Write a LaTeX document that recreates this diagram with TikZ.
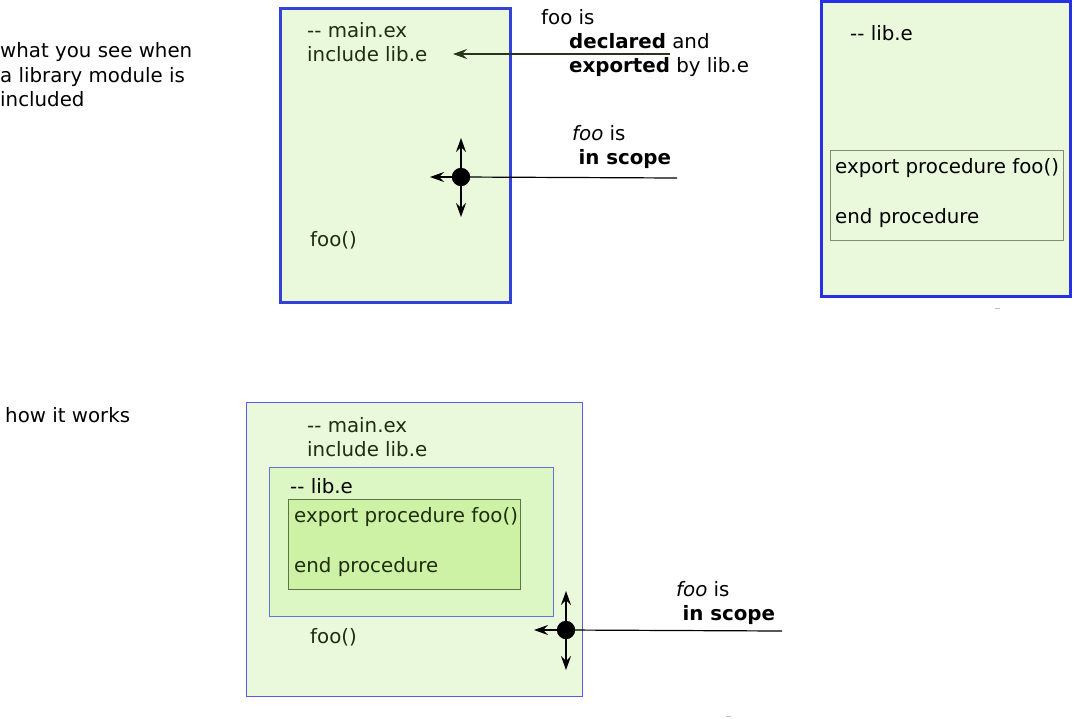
\documentclass[tikz,border=0pt]{standalone}
\usepackage{fontspec}
\setmainfont{DejaVu Sans}
\usetikzlibrary{arrows.meta}
\definecolor{boxfill}{RGB}{234,248,220}
\definecolor{midfill}{RGB}{220,246,196}
\definecolor{innerfill}{RGB}{205,242,166}
\definecolor{thickblue}{RGB}{51,64,218}
\definecolor{brightblue}{RGB}{38,48,228}
\definecolor{thinblue}{RGB}{90,90,235}
\definecolor{midblue}{RGB}{100,115,220}
\definecolor{codegreen}{RGB}{30,46,14}
\definecolor{olive}{RGB}{95,115,70}
\definecolor{greyframe}{RGB}{130,140,115}
\definecolor{arrowline}{RGB}{40,52,30}
\newcommand{\dd}{-\kern0pt-}
\tikzset{
  txt/.style={anchor=base west, inner sep=0pt, font=\fontsize{19.8}{24}\selectfont},
  code/.style={txt, text=codegreen},
  conn/.style={draw=arrowline, line width=1.2pt, -{Stealth[length=14pt,width=10pt,inset=5pt]}},
  dot/.style={circle, fill=black, minimum size=18pt, inner sep=0pt},
  bigbox/.style={draw=thickblue, line width=3pt, fill=boxfill},
}
\begin{document}
\begin{tikzpicture}[x=1pt,y=-1pt]
\useasboundingbox (0,0) rectangle (1075,718);

% ---------- top: what you see ----------
\node[txt] (see1) at (0,57) {what you see when};
\node[txt] (see2) at (0,82) {a library module is};
\node[txt] (see3) at (0,106) {included};

\draw[bigbox] (280,8) rectangle (510,302);
\node[code] (mainA) at (307,37) {\dd{} main.ex};
\node[code] (inclA) at (307,61) {include lib.e};
\node[code] (fooA) at (310,246) {foo()};

\node[txt] (fooisA) at (541,24) {foo is};
\node[txt] (declA) at (569,48) {\textbf{declared} and};
\node[txt] (exptA) at (569,72) {\textbf{exported} by lib.e};
\coordinate (declStart) at (670,54);
\coordinate (declEnd) at (453,54);
\draw[conn] (declStart) -- (declEnd);

\node[txt] (scopeA1) at (572,140) {\textit{foo} is};
\node[txt] (scopeA2) at (572,164) {\ \textbf{in scope}};
\node[dot] (dotA) at (461,177) {};
\coordinate (lineA) at (677,178);
\coordinate (upA) at (461,138);
\coordinate (downA) at (461,217);
\coordinate (leftA) at (430,177);
\draw[black, line width=1.2pt] (dotA.center) -- (lineA);
\draw[conn, draw=black] (dotA.center) -- (upA);
\draw[conn, draw=black] (dotA.center) -- (downA);
\draw[conn, draw=black] (dotA.center) -- (leftA);

\draw[bigbox, draw=brightblue] (821,1.5) rectangle (1070,296);
\node[txt] (libB) at (850,40) {\dd{} lib.e};
\draw[draw=greyframe, line width=1pt, fill=boxfill] (830.5,150.5) rectangle (1063.5,240);
\node[txt] (expB) at (835,173) {export procedure foo()};
\node[txt] (endB) at (835,223) {end procedure};
\draw[gray!50, line width=1pt] (995,308.5) -- (1000,308.5);

% ---------- bottom: how it works ----------
\node[txt] (how) at (5,422) {how it works};

\draw[draw=thinblue, line width=1pt, fill=boxfill] (246.5,402.5) rectangle (582.5,696.5);
\node[code] (mainC) at (307,432) {\dd{} main.ex};
\node[code] (inclC) at (307,456) {include lib.e};

\draw[draw=midblue, line width=1pt, fill=midfill] (269.5,467.5) rectangle (553.5,616);
\node[txt] (libC) at (290,493) {\dd{} lib.e};
\draw[draw=olive, line width=1pt, fill=innerfill] (288.5,499.5) rectangle (520.5,589.5);
\node[code] (expC) at (294,522) {export procedure foo()};
\node[code] (endC) at (294,572) {end procedure};
\node[code] (fooC) at (310,643) {foo()};

\node[txt] (scopeC1) at (676,596) {\textit{foo} is};
\node[txt] (scopeC2) at (676,620) {\ \textbf{in scope}};
\node[dot] (dotC) at (566,630) {};
\coordinate (lineC) at (782,631);
\coordinate (upC) at (566,591);
\coordinate (downC) at (566,670);
\coordinate (leftC) at (534,630);
\draw[black, line width=1.2pt] (dotC.center) -- (lineC);
\draw[conn, draw=black] (dotC.center) -- (upC);
\draw[conn, draw=black] (dotC.center) -- (downC);
\draw[conn, draw=black] (dotC.center) -- (leftC);
\draw[gray!50, line width=1pt] (726,716.5) -- (731,716.5);
\node[dot] at (dotA) {};
\node[dot] at (dotC) {};
\end{tikzpicture}
\end{document}
